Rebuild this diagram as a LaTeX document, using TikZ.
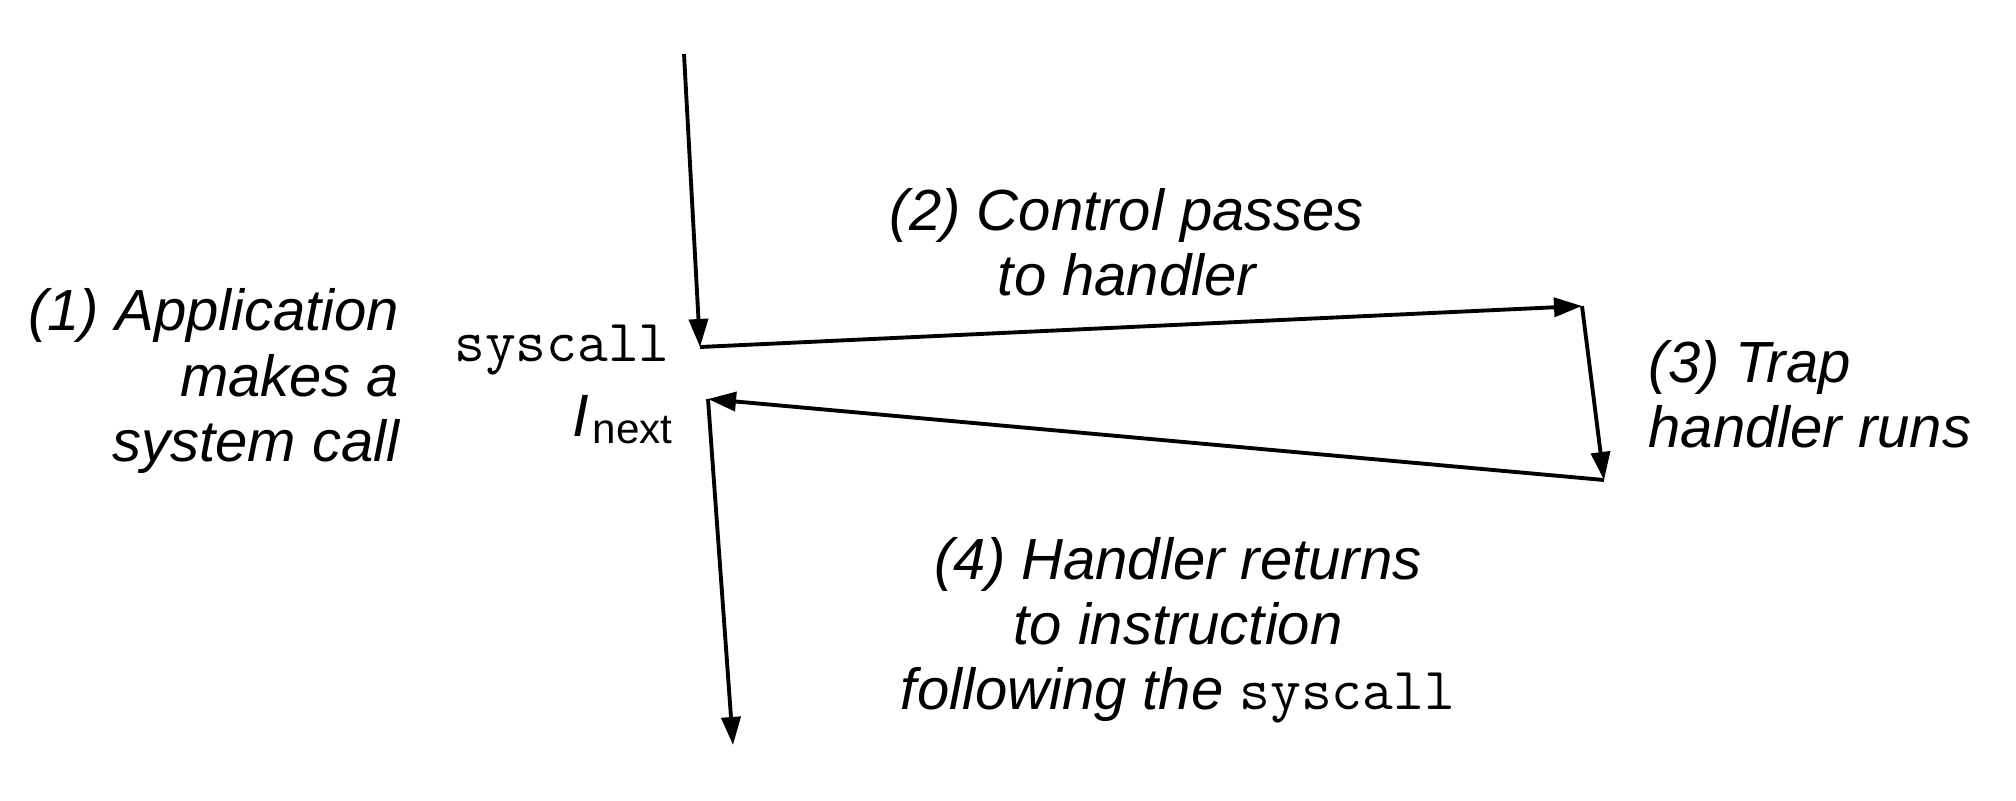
\documentclass[tikz,border=0pt]{standalone}
\usepackage{fontspec}
\setmainfont{Liberation Sans}
\usetikzlibrary{arrows.meta}
\begin{document}
\begin{tikzpicture}[x=0.01cm,y=-0.01cm,
  lbl/.style={font=\fontsize{16.5}{18.5}\selectfont\itshape, inner sep=0pt, align=center},
  flow/.style={line width=1.1pt, -{Triangle[length=0.28cm,width=0.19cm]}},
]
\useasboundingbox[fill=white] (0,0) rectangle (2016,800);

\coordinate (top) at (684,54);
\coordinate (sc) at (700,347);
\coordinate (h1) at (1582,306);
\coordinate (h2) at (1604,480);
\coordinate (nx) at (708,399);
\coordinate (bot) at (733,745);

\draw[flow] (top) -- (sc);
\draw[flow] (sc) -- (h1);
\draw[flow] (h1) -- (h2);
\draw[flow] (h2) -- (nx);
\draw[flow] (nx) -- (bot);

\node[lbl, align=right, anchor=east] (app) at (400,381) {(1) Application\\makes a\\system call};
\node[font=\fontsize{17}{19}\selectfont\ttfamily, inner sep=0pt] (sys) at (562,350) {syscall};
\node[inner sep=0pt, anchor=base west] (inext) at (572,436) {\fontsize{17}{19}\selectfont\itshape I\kern1pt\raisebox{-2pt}{\upshape\fontsize{12}{14}\selectfont next}};
\node[lbl] (ctl) at (1127,242) {(2) Control passes\\to handler};
\node[lbl, align=left, anchor=west] (trap) at (1648,394) {(3) Trap\\handler runs};
\node[lbl] (ret) at (1178,630) {(4) Handler returns\\to instruction\\following the {\upshape\ttfamily\fontsize{17}{19}\selectfont syscall}};
\end{tikzpicture}
\end{document}
